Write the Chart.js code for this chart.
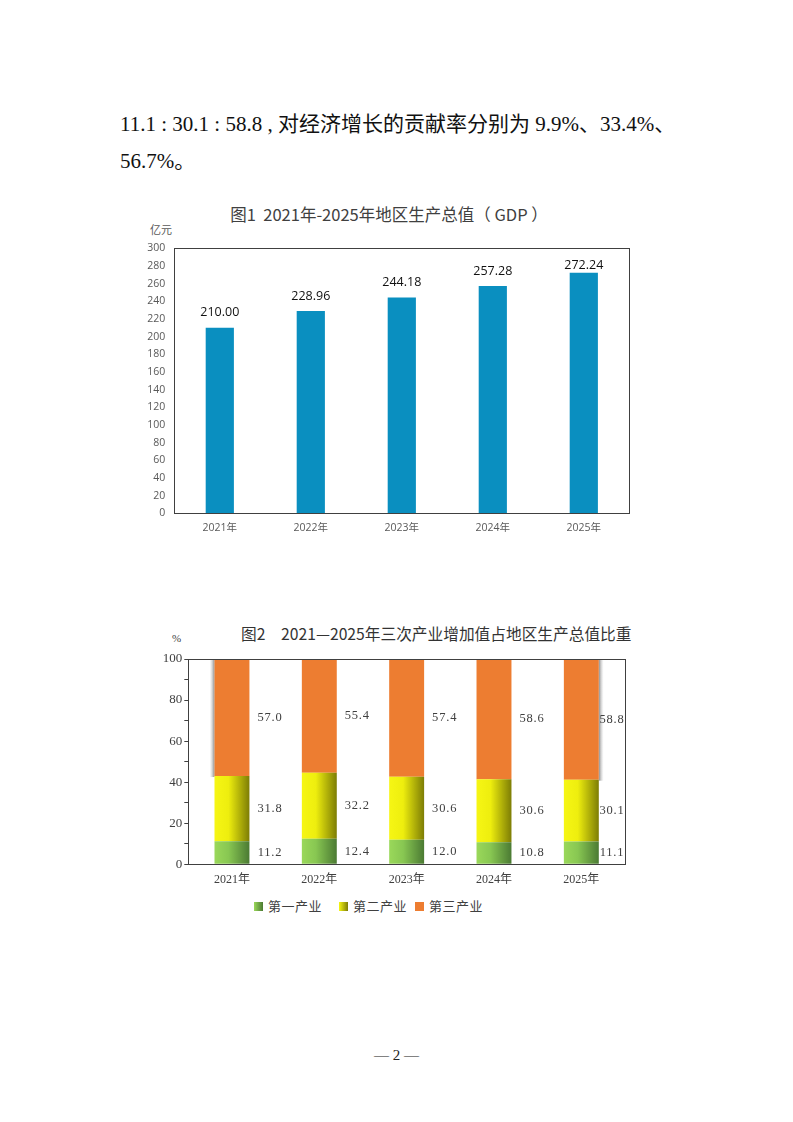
<!DOCTYPE html>
<html>
<head>
<meta charset="utf-8">
<script src="https://cdn.jsdelivr.net/npm/chart.js@4.4.1/dist/chart.umd.min.js"></script>
<style>
  html,body{margin:0;padding:0;background:#fff;}
  #page{position:relative;width:793px;height:1122px;background:#fff;overflow:hidden;}
  .abs{position:absolute;white-space:pre;}
  .body-text{font-family:"Liberation Serif","Noto Sans CJK SC";font-size:21px;line-height:24px;color:#111;}
  .cjk{font-family:"Noto Sans CJK SC";}
  canvas{position:absolute;}
  .lg-box{position:absolute;width:9px;height:9px;}
  .lg-txt{position:absolute;font-family:"Noto Sans CJK SC";font-size:13px;line-height:16px;color:#404040;letter-spacing:0.5px;}
</style>
</head>
<body>
<div id="page">
  <div class="abs body-text" style="left:120px;top:110px;">11.1 : 30.1 : 58.8 , <span class="cjk">对经济增长的贡献率分别为</span> 9.9%<span class="cjk">、</span>33.4%<span class="cjk">、</span></div>
  <div class="abs body-text" style="left:120px;top:147px;">56.7%<span class="cjk">。</span></div>

  <div class="abs" style="left:189px;width:400px;top:203px;text-align:center;font-family:'Noto Sans CJK SC';font-size:16.5px;line-height:22px;color:#404040;">图1  2021年-2025年地区生产总值（ GDP ）</div>
  <div class="abs" style="left:150px;top:221px;font-family:'Noto Sans CJK SC';font-size:11px;line-height:16px;color:#595959;">亿元</div>
  <canvas id="c1" width="540" height="307" style="left:100px;top:233px;width:540px;height:307px;"></canvas>

  <div class="abs" style="left:241px;top:623px;font-family:'Noto Sans CJK SC';font-size:15.7px;line-height:22px;color:#333;">图2　2021—2025年三次产业增加值占地区生产总值比重</div>
  <div class="abs" style="left:172px;top:631px;font-family:'Liberation Serif';font-size:11px;line-height:14px;color:#404040;">%</div>
  <canvas id="c2" width="510" height="250" style="left:130px;top:645px;width:510px;height:250px;"></canvas>

  <div class="lg-box" style="left:254px;top:902px;background:linear-gradient(to right,#9AD85A,#4B7A33);"></div>
  <div class="lg-txt" style="left:268px;top:898px;">第一产业</div>
  <div class="lg-box" style="left:339px;top:902px;background:linear-gradient(to right,#F6F614,#7D7D05);"></div>
  <div class="lg-txt" style="left:353px;top:898px;">第二产业</div>
  <div class="lg-box" style="left:415px;top:902px;background:#ED7D31;"></div>
  <div class="lg-txt" style="left:429px;top:898px;">第三产业</div>

  <div class="abs" style="left:0;width:793px;top:1045px;text-align:center;font-family:'Liberation Serif';font-size:15px;line-height:20px;color:#222;">— 2 —</div>
</div>
<script>
// ---------- Data ----------
const gdpYears = ['2021年', '2022年', '2023年', '2024年', '2025年'];
const gdpValues = [210.00, 228.96, 244.18, 257.28, 272.24];
const gdpAxisMax = 300;
const gdpAxisStep = 20;

const shareYears = ['2021年', '2022年', '2023年', '2024年', '2025年'];
const primaryShare = [11.2, 12.4, 12.0, 10.8, 11.1];
const secondaryShare = [31.8, 32.2, 30.6, 30.6, 30.1];
const tertiaryShare = [57.0, 55.4, 57.4, 58.6, 58.8];
const shareSeriesNames = ['第一产业', '第二产业', '第三产业'];
const shareAxisMax = 100;

// ---------- Plugins ----------
const framePlugin = {
  id: 'frame',
  afterDraw(chart, args, opts) {
    const a = chart.chartArea, ctx = chart.ctx;
    ctx.save();
    ctx.strokeStyle = opts.color || '#404040';
    ctx.lineWidth = 1;
    ctx.strokeRect(Math.round(a.left) + 0.5, Math.round(a.top) + 0.5, Math.round(a.right - a.left), Math.round(a.bottom - a.top));
    ctx.restore();
  }
};

const gdpLabelPlugin = {
  id: 'gdpLabels',
  afterDatasetsDraw(chart) {
    const ctx = chart.ctx, a = chart.chartArea;
    const meta = chart.getDatasetMeta(0);
    const data = chart.data.datasets[0].data;
    ctx.save();
    ctx.fillStyle = '#111';
    ctx.font = '12.5px "Open Sans"';
    ctx.textAlign = 'center';
    ctx.textBaseline = 'middle';
    meta.data.forEach((el, i) => {
      const y = Math.max(el.y - 15, a.top + 17);
      ctx.fillText(data[i].toFixed(2), el.x, y);
    });
    ctx.restore();
  }
};

// soft grey shadow beside the outermost top segments
const shadowPlugin = {
  id: 'edgeShadow',
  beforeDatasetsDraw(chart) {
    const ctx = chart.ctx;
    const last = chart.data.datasets.length - 1;
    const meta = chart.getDatasetMeta(last);
    const n = meta.data.length;
    ctx.save();
    [[meta.data[0], -1], [meta.data[n - 1], 1]].forEach(([el, dir]) => {
      const edge = el.x + dir * el.width / 2;
      const g = ctx.createLinearGradient(edge, 0, edge + dir * 5, 0);
      g.addColorStop(0, 'rgba(120,120,120,0.85)');
      g.addColorStop(1, 'rgba(200,200,200,0)');
      ctx.fillStyle = g;
      const x0 = dir < 0 ? edge - 5 : edge;
      ctx.fillRect(x0, el.y, 5, el.base - el.y + 1);
    });
    ctx.restore();
  }
};

const shareLabelPlugin = {
  id: 'shareLabels',
  afterDatasetsDraw(chart) {
    const ctx = chart.ctx, a = chart.chartArea;
    ctx.save();
    ctx.fillStyle = '#404040';
    ctx.font = '12.5px "Liberation Serif"';
    try { ctx.letterSpacing = '0.8px'; } catch (e) {}
    ctx.textAlign = 'center';
    ctx.textBaseline = 'middle';
    chart.data.datasets.forEach((ds, di) => {
      const meta = chart.getDatasetMeta(di);
      meta.data.forEach((el, i) => {
        const x = Math.min(el.x + 38, a.right - 13);
        const y = (el.y + el.base) / 2;
        ctx.fillText(ds.data[i].toFixed(1), x, y);
      });
    });
    ctx.restore();
  }
};

function barGradient(stops, fraction) {
  return (c) => {
    const chart = c.chart;
    const xs = chart.scales && chart.scales.x;
    if (!xs || !chart.chartArea || c.dataIndex === undefined) return stops[0][1];
    const cx = xs.getPixelForValue(c.dataIndex);
    const half = (xs.getPixelForValue(1) - xs.getPixelForValue(0)) * fraction / 2;
    const g = chart.ctx.createLinearGradient(cx - half, 0, cx + half, 0);
    stops.forEach(([o, col]) => g.addColorStop(o, col));
    return g;
  };
}

// ---------- Chart 1 ----------
new Chart(document.getElementById('c1'), {
  type: 'bar',
  data: {
    labels: gdpYears,
    datasets: [{
      data: gdpValues,
      backgroundColor: '#0A8FC0',
      borderWidth: 0,
      categoryPercentage: 1,
      barPercentage: 0.31
    }]
  },
  options: {
    responsive: false,
    animation: false,
    devicePixelRatio: 1,
    layout: { padding: { top: 0, right: 10.7, left: 0, bottom: 0 } },
    plugins: { legend: { display: false }, tooltip: { enabled: false }, frame: { color: '#404040' } },
    scales: {
      x: {
        grid: { display: false, drawTicks: false },
        border: { display: true, color: '#404040' },
        ticks: { color: '#595959', font: { family: '"Open Sans", "Noto Sans CJK SC"', size: 10.5 }, padding: 8 },
        afterFit(s) { s.height = 26.7; }
      },
      y: {
        min: 0, max: gdpAxisMax,
        grid: { display: false, drawTicks: false },
        border: { display: true, color: '#404040' },
        ticks: { stepSize: gdpAxisStep, color: '#595959', font: { family: '"Open Sans"', size: 10.5 }, padding: 9 },
        afterFit(s) { s.width = 74.3; }
      }
    }
  },
  plugins: [framePlugin, gdpLabelPlugin]
});

// ---------- Chart 2 ----------
const barFrac = 0.4;
new Chart(document.getElementById('c2'), {
  type: 'bar',
  data: {
    labels: shareYears,
    datasets: [
      { label: shareSeriesNames[0], data: primaryShare,
        backgroundColor: barGradient([[0, '#9AD85A'], [0.4, '#88C752'], [1, '#4B7A33']], barFrac) },
      { label: shareSeriesNames[1], data: secondaryShare,
        backgroundColor: barGradient([[0, '#F6F614'], [0.4, '#EEEE0E'], [1, '#7D7D05']], barFrac) },
      { label: shareSeriesNames[2], data: tertiaryShare, backgroundColor: '#ED7D31' }
    ].map(d => Object.assign(d, { borderWidth: 0, categoryPercentage: 1, barPercentage: barFrac }))
  },
  options: {
    responsive: false,
    animation: false,
    devicePixelRatio: 1,
    layout: { padding: { top: 14, right: 15, left: 0, bottom: 0 } },
    plugins: { legend: { display: false }, tooltip: { enabled: false }, frame: { color: '#404040' } },
    scales: {
      x: {
        stacked: true,
        grid: { display: false, drawTicks: false },
        border: { display: true, color: '#404040' },
        ticks: { color: '#404040', font: { family: '"Liberation Serif", "Noto Sans CJK SC"', size: 12 }, padding: 8.5 },
        afterFit(s) { s.height = 30.7; }
      },
      y: {
        stacked: true,
        min: 0, max: shareAxisMax,
        grid: { display: true, drawOnChartArea: false, drawTicks: true, tickLength: 4, color: '#404040' },
        border: { display: true, color: '#404040' },
        ticks: {
          stepSize: 10, autoSkip: false,
          callback: (v) => (v % 20 === 0 ? v : ''),
          color: '#404040', font: { family: '"Liberation Serif"', size: 13 }, padding: 2
        },
        afterFit(s) { s.width = 58.3; }
      }
    }
  },
  plugins: [framePlugin, shadowPlugin, shareLabelPlugin]
});
</script>
</body>
</html>
